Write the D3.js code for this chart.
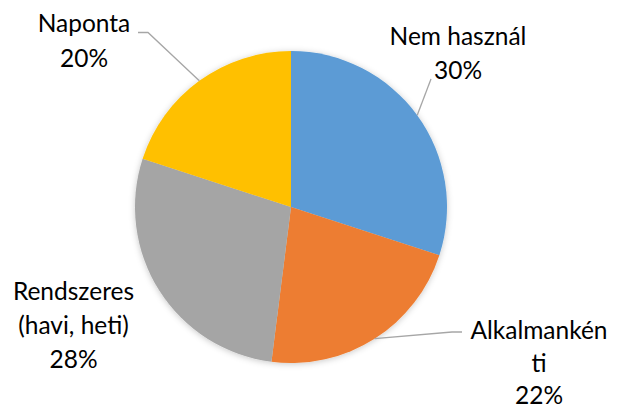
<!DOCTYPE html>
<html lang="hu">
<head>
<meta charset="UTF-8">
<script src="https://d3js.org/d3.v7.min.js"></script>
<style>
  body { margin: 0; background: #fff; }
  text { font-family: Lato, "Open Sans", sans-serif; font-size: 24.5px; fill: #000; }
</style>
</head>
<body>
<svg id="chart" width="618" height="412"></svg>
<script>
// data
var categories = ["Nem használ", "Alkalmanként", "Rendszeres (havi, heti)", "Naponta"];
var values = [30, 22, 28, 20];
var colors = ["#5B9BD5", "#ED7D31", "#A5A5A5", "#FFC000"];
// label lines as drawn in the chart
var labelLines = [["Nem használ", "30%"], ["Alkalmankén", "ti", "22%"], ["Rendszeres", "(havi, heti)", "28%"], ["Naponta", "20%"]];

// layout
var labelAt = [[458, 44.5], [539, 339], [73.5, 299.5], [84, 32.3]];
var leaderKnee = [null, [452, 332], null, [148, 32.5]];
var leaderStart = [[431, 79], [462, 332], null, [138, 32.5]];
var lineGaps = [34.4, 32.5, 34.4, 34.4];

var svg = d3.select("#chart"),
    cx = 291, cy = 207, r = 156;

var defs = svg.append("defs");
var f = defs.append("filter").attr("id", "sh").attr("x", "-20%").attr("y", "-20%").attr("width", "140%").attr("height", "140%");
f.append("feDropShadow").attr("dx", 0).attr("dy", 1).attr("stdDeviation", 3)
  .attr("flood-color", "#000").attr("flood-opacity", 0.22);

var pie = d3.pie().sort(null).value(function(d) { return d; });
var arc = d3.arc().innerRadius(0).outerRadius(r);
var arcs = pie(values);

var g = svg.append("g").attr("transform", "translate(" + cx + "," + cy + ")");
g.append("g").attr("filter", "url(#sh)")
  .selectAll("path")
  .data(arcs)
  .enter()
  .append("path")
    .attr("d", arc)
    .attr("fill", function(d, i) { return colors[i]; });

// leader lines, ending on the slice's middle angle
arcs.forEach(function(d, i) {
  if (!leaderStart[i]) return;
  var a = (d.startAngle + d.endAngle) / 2;
  var end = [cx + Math.sin(a) * r, cy - Math.cos(a) * r];
  var pts = [leaderStart[i]];
  if (leaderKnee[i]) pts.push(leaderKnee[i]);
  pts.push(end);
  svg.append("polyline")
    .attr("points", pts.map(function(p) { return p.join(","); }).join(" "))
    .attr("fill", "none")
    .attr("stroke", "#A6A6A6")
    .attr("stroke-width", 1.3);
});

// labels
labelLines.forEach(function(lines, i) {
  var t = svg.append("text")
    .attr("x", labelAt[i][0])
    .attr("y", labelAt[i][1])
    .attr("text-anchor", "middle");
  lines.forEach(function(s, j) {
    t.append("tspan").attr("x", labelAt[i][0]).attr("dy", j === 0 ? 0 : lineGaps[i]).text(s);
  });
});
</script>
</body>
</html>
